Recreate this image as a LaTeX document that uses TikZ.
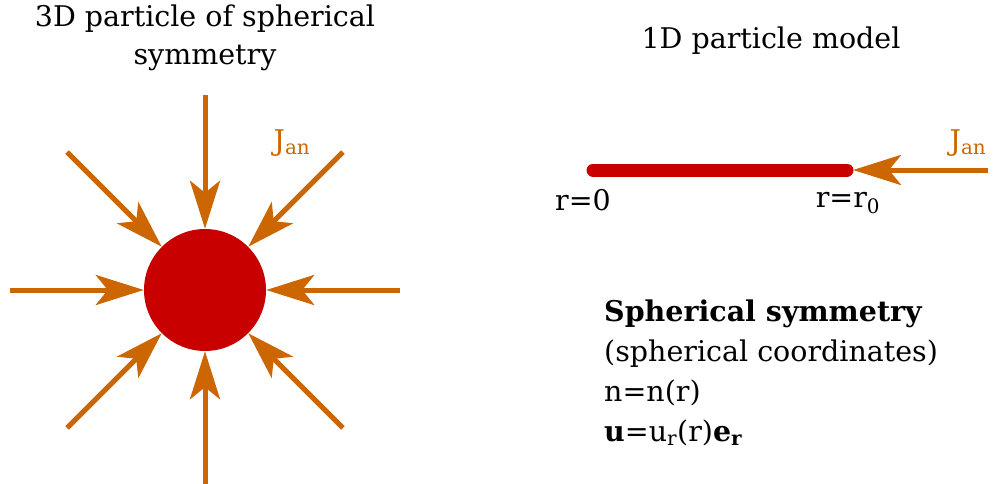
\documentclass[tikz,border=0pt]{standalone}
\usepackage{fontspec}
\setmainfont{DejaVu Serif}
\usetikzlibrary{arrows.meta, calc}

\definecolor{flux}{RGB}{204,102,0}
\definecolor{part}{RGB}{200,0,0}

\begin{document}
\begin{tikzpicture}[
    x=1pt, y=-1pt,
    every node/.style={font=\fontsize{28.5}{38}\selectfont, inner sep=0pt},
    flow/.style={flux, line width=5pt,
                 -{Stealth[length=48pt, width=30pt, inset=12pt]}},
    lbl/.style={text=flux},
    title/.style={align=center}
]
\useasboundingbox (0,0) rectangle (993,484);

% 3D particle
\node[title] (t3d) at (205,38) {3D particle of spherical\\symmetry};
\node[circle, fill=part, minimum size=122pt] (ball) at (205,290) {};

% incoming fluxes
\foreach \a in {0,45,...,315}
    \coordinate (s\a) at ($(ball.center)+(\a:195)$);
\foreach \a in {0,45,...,315}
    \draw[flow] (s\a) -- (ball);
\node[lbl] (jl) at (292,143) {J\textsubscript{an}};

% 1D particle model
\node[title] (t1d) at (771,41) {1D particle model};
\coordinate (barL) at (593,170);
\coordinate (barR) at (847,170);
\coordinate (tip) at (853,170);
\coordinate (jin) at (988,170);
\draw[part, line width=13pt, line cap=round] (barL) -- (barR);
\draw[flow] (jin) -- (tip);
\node[lbl] (jr) at (968,143) {J\textsubscript{an}};
\node (r0) at (583,200) {r=0};
\node (r1) at (848,203) {r=r\textsubscript{0}};

% description
\node[align=left, anchor=north west, font=\fontsize{28.5}{40}\selectfont]
    (desc) at (604,300)
    {\textbf{Spherical symmetry}\\
     (spherical coordinates)\\
     n=n(r)\\
     \textbf{u}=u\textsubscript{r}(r)\textbf{e}\textsubscript{\textbf{r}}};

\end{tikzpicture}
\end{document}
